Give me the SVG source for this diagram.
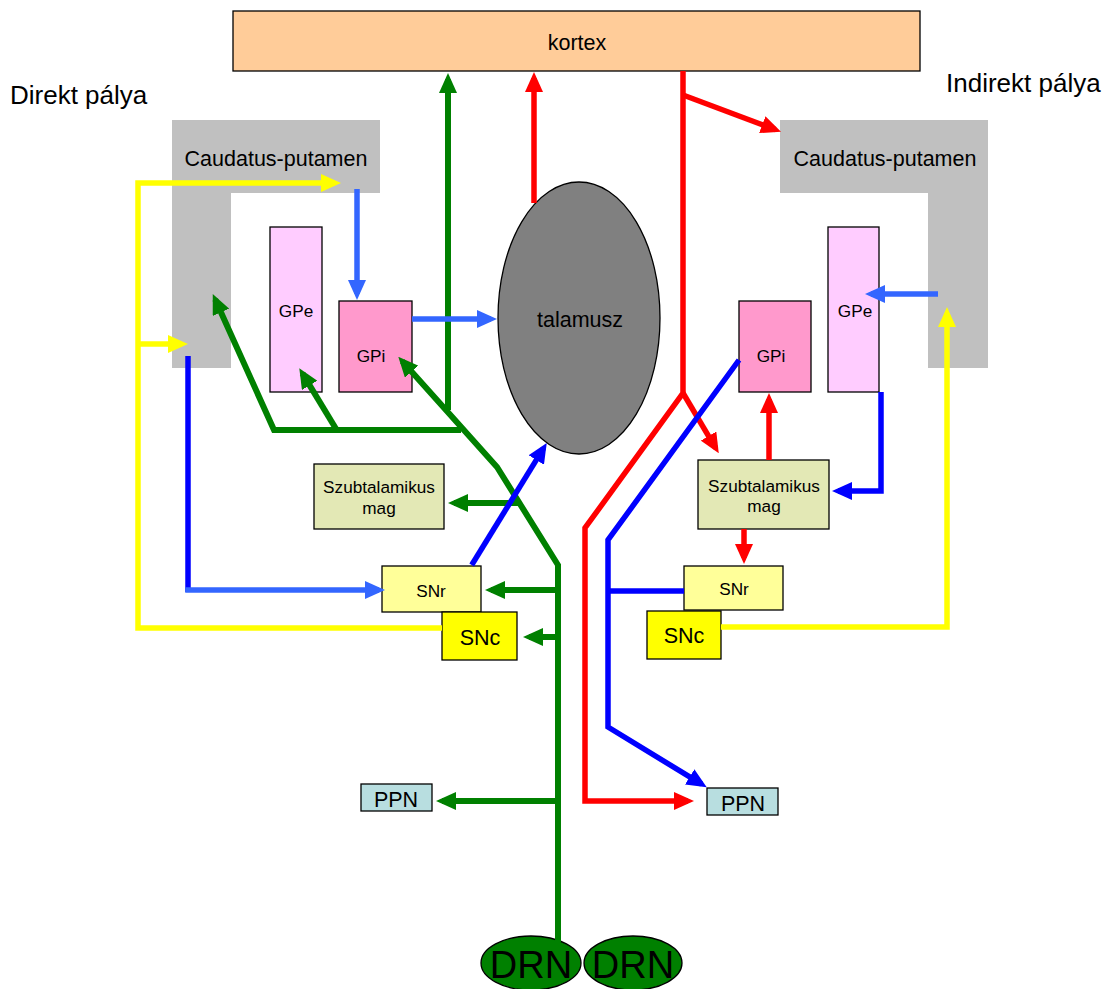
<svg xmlns="http://www.w3.org/2000/svg" width="1106" height="989" viewBox="0 0 1106 989">
<style>
text{font-family:"Liberation Sans",Arial,sans-serif;fill:#000;text-anchor:middle}
.t21{font-size:21.5px}
.t17{font-size:17.2px}
.hd{font-size:26px;text-anchor:start}
.drn{font-size:38px}
.box{stroke:#000;stroke-width:1.3}
.c{fill:none;stroke-linejoin:miter;stroke-linecap:butt}
.g{stroke:#008000;stroke-width:6}
.r{stroke:#FF0000;stroke-width:5.5}
.b{stroke:#0000FF;stroke-width:5.5}
.lb{stroke:#3366FF;stroke-width:5.5}
.y{stroke:#FFFF00;stroke-width:5.5}
</style>
<defs>
<marker id="ag" viewBox="0 0 20 18" markerWidth="20" markerHeight="18" refX="14" refY="9" orient="auto" markerUnits="userSpaceOnUse"><path d="M0,0 L20,9 L0,18 Z" fill="#008000"/></marker>
<marker id="ar" viewBox="0 0 20 18" markerWidth="20" markerHeight="18" refX="14" refY="9" orient="auto" markerUnits="userSpaceOnUse"><path d="M0,0 L20,9 L0,18 Z" fill="#FF0000"/></marker>
<marker id="ab" viewBox="0 0 20 18" markerWidth="20" markerHeight="18" refX="14" refY="9" orient="auto" markerUnits="userSpaceOnUse"><path d="M0,0 L20,9 L0,18 Z" fill="#0000FF"/></marker>
<marker id="alb" viewBox="0 0 20 18" markerWidth="20" markerHeight="18" refX="14" refY="9" orient="auto" markerUnits="userSpaceOnUse"><path d="M0,0 L20,9 L0,18 Z" fill="#3366FF"/></marker>
<marker id="ay" viewBox="0 0 20 18" markerWidth="20" markerHeight="18" refX="14" refY="9" orient="auto" markerUnits="userSpaceOnUse"><path d="M0,0 L20,9 L0,18 Z" fill="#FFFF00"/></marker>
</defs>
<rect width="1106" height="989" fill="#fff"/>

<text class="hd" x="10" y="104">Direkt pálya</text>
<text class="hd" x="946" y="92">Indirekt pálya</text>

<g id="kortex"><rect class="box" x="233" y="11" width="687" height="60" fill="#FFCC99"/><text class="t21" x="577" y="50">kortex</text></g>

<g id="caudatus-left"><path d="M172,120 H380 V193 H231 V368 H172 Z" fill="#C0C0C0"/><text class="t21" x="276" y="166">Caudatus-putamen</text></g>
<g id="caudatus-right"><path d="M780,120 H988 V368 H928 V193 H780 Z" fill="#C0C0C0"/><text class="t21" x="885" y="166">Caudatus-putamen</text></g>

<g id="gpe-left"><rect class="box" x="270" y="227" width="52" height="165" fill="#FFCCFF"/><text class="t17" x="296" y="317">GPe</text></g>
<g id="gpi-left"><rect class="box" x="339" y="301" width="73" height="91" fill="#FF99CC"/><text class="t17" x="371" y="362">GPi</text></g>
<g id="gpi-right"><rect class="box" x="739" y="301" width="72" height="91" fill="#FF99CC"/><text class="t17" x="771" y="362">GPi</text></g>
<g id="gpe-right"><rect class="box" x="828" y="227" width="51" height="165" fill="#FFCCFF"/><text class="t17" x="855" y="317">GPe</text></g>

<g id="talamusz"><ellipse class="box" cx="579" cy="318" rx="81" ry="136" fill="#808080"/><text class="t21" x="580" y="327">talamusz</text></g>

<g id="stn-left"><rect class="box" x="314" y="464" width="130" height="65" fill="#E3E8B5"/><text class="t17" x="379" y="493">Szubtalamikus</text><text class="t17" x="379" y="514">mag</text></g>
<g id="stn-right"><rect class="box" x="698" y="460" width="131" height="69" fill="#E3E8B5"/><text class="t17" x="764" y="492">Szubtalamikus</text><text class="t17" x="764" y="512">mag</text></g>

<g id="snr-left"><rect class="box" x="382" y="566" width="99" height="46" fill="#FFFF99"/><text class="t17" x="431" y="597">SNr</text></g>
<g id="snc-left"><rect class="box" x="442" y="612" width="75" height="48" fill="#FFFF00"/><text class="t21" x="480" y="645">SNc</text></g>
<g id="snr-right"><rect class="box" x="684" y="566" width="99" height="44" fill="#FFFF99"/><text class="t17" x="734" y="595">SNr</text></g>
<g id="snc-right"><rect class="box" x="647" y="611" width="74" height="48" fill="#FFFF00"/><text class="t21" x="684" y="643">SNc</text></g>

<g id="ppn-left"><rect class="box" x="361" y="784" width="71" height="27" fill="#B8DEE0"/><text class="t21" x="396" y="807">PPN</text></g>
<g id="ppn-right"><rect class="box" x="707" y="788" width="71" height="27" fill="#B8DEE0"/><text class="t21" x="743" y="811">PPN</text></g>

<g id="drn-left"><ellipse class="box" cx="531" cy="963" rx="50" ry="27" fill="#008000"/><text class="drn" x="531" y="978">DRN</text></g>
<g id="drn-right"><ellipse class="box" cx="633" cy="963" rx="49" ry="27" fill="#008000"/><text class="drn" x="633" y="978">DRN</text></g>

<g id="connectors">
<path class="c g" d="M448,410 L448,79" marker-end="url(#ag)"/>
<path class="c g" d="M558,942 L558,565 L497,467 L402.3,361.2" marker-end="url(#ag)"/>
<path class="c g" d="M461,430 L274,430 L215.2,299.5" marker-end="url(#ag)"/>
<path class="c g" d="M336.7,430 L302.4,373.4" marker-end="url(#ag)"/>
<path class="c g" d="M520,503 L454,503" marker-end="url(#ag)"/>
<path class="c g" d="M558,590 L491,590" marker-end="url(#ag)"/>
<path class="c g" d="M558,637 L529,637" marker-end="url(#ag)"/>
<path class="c g" d="M558,801 L442,801" marker-end="url(#ag)"/>

<path class="c r" d="M534,203 L534,78" marker-end="url(#ar)"/>
<path class="c r" d="M683,71 L683,393 L585,528 L585,801 L688,801" marker-end="url(#ar)"/>
<path class="c r" d="M683,95 L775.4,129.6" marker-end="url(#ar)"/>
<path class="c r" d="M683,393 L715.7,448.1" marker-end="url(#ar)"/>
<path class="c r" d="M769,460 L769,399" marker-end="url(#ar)"/>
<path class="c r" d="M744,529 L744,558" marker-end="url(#ar)"/>

<path class="c b" d="M188,356 L188,592"/>
<path class="c lb" d="M185.25,590 L379,590" marker-end="url(#alb)"/>
<path class="c b" d="M471.7,565 L543.6,448.1" marker-end="url(#ab)"/>
<path class="c lb" d="M357,189 L357,294" marker-end="url(#alb)"/>
<path class="c lb" d="M412,319 L491,319" marker-end="url(#alb)"/>
<path class="c b" d="M739,360 L608,540 L608,727 L701.6,784.2" marker-end="url(#ab)"/>
<path class="c b" d="M608,591 L684,591"/>
<path class="c lb" d="M938,294 L871,294" marker-end="url(#alb)"/>
<path class="c b" d="M881,392 L881,491 L838,491" marker-end="url(#ab)"/>

<path class="c y" d="M442,628 L138,628 L138,183 L335,183" marker-end="url(#ay)"/>
<path class="c y" d="M138,344 L182,344" marker-end="url(#ay)"/>
<path class="c y" d="M721,627 L947,627 L947,313" marker-end="url(#ay)"/>
</g>
</svg>
